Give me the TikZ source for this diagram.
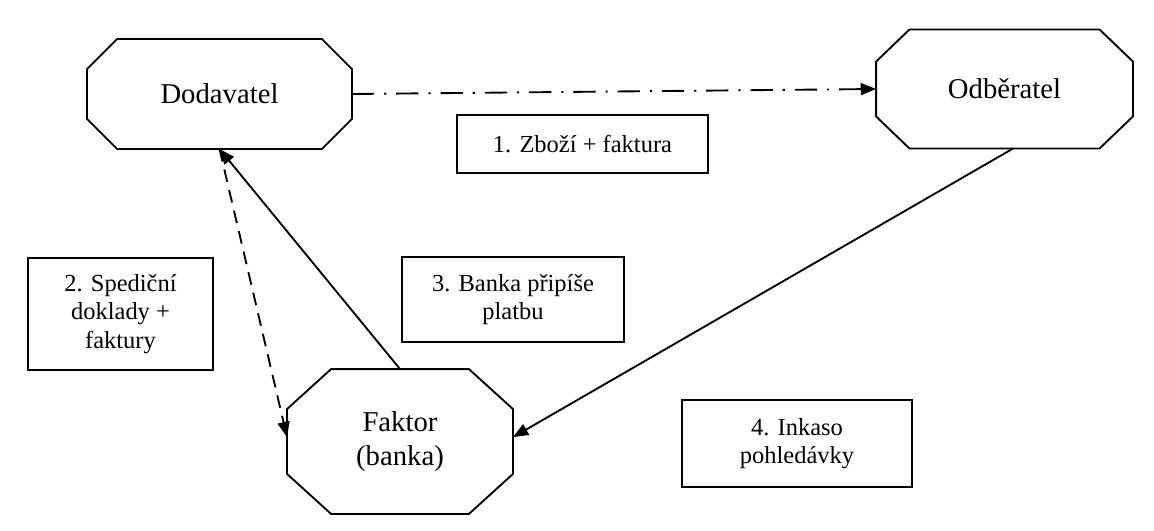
\documentclass[tikz,border=0pt]{standalone}
\usepackage{fontspec}
\setmainfont{Liberation Serif}
\usepackage{tikz}
\usetikzlibrary{positioning, calc, arrows.meta}
\newcommand{\partyfont}{\fontsize{24.5}{28.5}\selectfont}
\newcommand{\stepfont}{\fontsize{20.9}{24.5}\selectfont}

\begin{document}
\begin{tikzpicture}[x=0.03cm, y=-0.03cm, line width=1.6pt,
    party/.style={inner sep=0pt, align=center, font=\partyfont},
    stepbox/.style={draw, line width=1.4pt, inner sep=0pt, align=center, font=\stepfont},
    flow/.style={-{Triangle[length=4.6mm, width=3.6mm]}},
    dashdot/.style={dash pattern=on 19pt off 8.5pt on 1.8pt off 8.5pt},
    dash2/.style={dash pattern=on 11pt off 7pt}]
      \useasboundingbox (0,0) rectangle (1154,530);
      % parties (octagon drawn below)
      \node[party, minimum width=7.89cm, minimum height=3.24cm] (dod) at (219.5,94) {Dodavatel};
      \node[party, minimum width=7.65cm, minimum height=3.51cm] (odb) at (1004.5,89) {Odběratel};
      \node[party, minimum width=6.72cm, minimum height=4.29cm] (fak) at (400,441.5) {Faktor\\(banka)};
      \foreach \n/\cx/\cy in {dod/0.9cm/0.9cm, odb/1cm/0.96cm, fak/1.32cm/1.2cm}
        \draw ([xshift=\cx]\n.north west) -- ([xshift=-\cx]\n.north east)
          -- ([yshift=-\cy]\n.north east) -- ([yshift=\cy]\n.south east)
          -- ([xshift=-\cx]\n.south east) -- ([xshift=\cx]\n.south west)
          -- ([yshift=\cy]\n.south west) -- ([yshift=-\cy]\n.north west) -- cycle;
      % steps
      \node[stepbox, minimum width=7.53cm, minimum height=1.74cm] (s1) at (582.5,144) {1. Zboží + faktura};
      \node[stepbox, minimum width=5.55cm, minimum height=3.36cm] (s2) at (120.5,314) {2. Spediční\\doklady +\\faktury};
      \node[stepbox, minimum width=6.66cm, minimum height=2.55cm] (s3) at (513,299.5) {3. Banka připíše\\platbu};
      \node[stepbox, minimum width=6.9cm, minimum height=2.61cm] (s4) at (797,443.5) {4. Inkaso\\pohledávky};
      % flows
      \draw[flow, dashdot] (dod.east) -- (odb.west);
      \draw[flow, dash2] (dod.south) -- ([yshift=0.13cm]fak.west);
      \draw[flow] (fak.north) -- (dod.south);
      \draw[flow] ([xshift=0.26cm]odb.south) -- ([yshift=0.13cm]fak.east);
\end{tikzpicture}
\end{document}
